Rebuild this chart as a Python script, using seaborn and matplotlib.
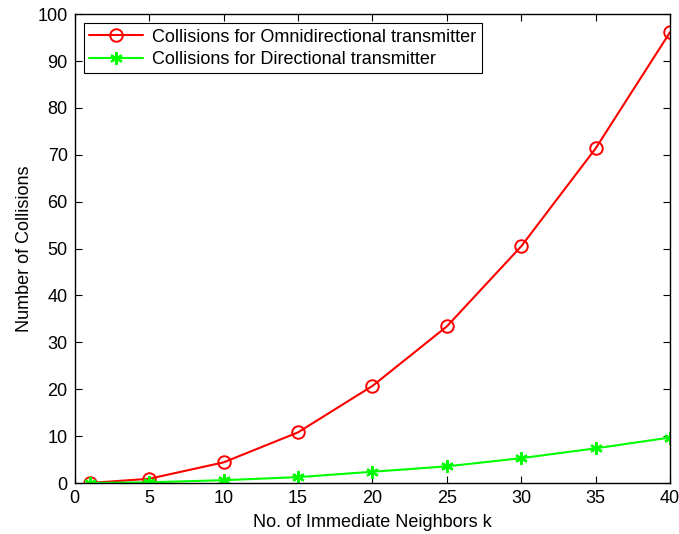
import matplotlib
matplotlib.use("Agg")
import matplotlib.pyplot as plt
import seaborn as sns
import pandas as pd

k = [1, 5, 10, 15, 20, 25, 30, 35, 40]
omni = [0, 0.9, 4.4, 10.8, 20.7, 33.4, 50.5, 71.4, 96.2]
directional = [0, 0.15, 0.6, 1.25, 2.4, 3.55, 5.3, 7.4, 9.7]
xticks = [0, 5, 10, 15, 20, 25, 30, 35, 40]
yticks = [0, 10, 20, 30, 40, 50, 60, 70, 80, 90, 100]

sns.set_style("ticks")
plt.rcParams['font.family'] = ['Liberation Sans', 'DejaVu Sans']
plt.rcParams['text.color'] = 'black'
plt.rcParams['axes.labelcolor'] = 'black'
plt.rcParams['xtick.color'] = 'black'
plt.rcParams['ytick.color'] = 'black'

fig = plt.figure(figsize=(6.79, 5.34), dpi=100)
ax = fig.add_axes([0.110, 0.0955, 0.877, 0.878])

df1 = pd.DataFrame({"k": k, "v": omni})
df2 = pd.DataFrame({"k": k, "v": directional})
sns.lineplot(data=df1, x="k", y="v", ax=ax, color="#FF0000", lw=1.5,
             marker="o", markersize=9, markerfacecolor="none",
             markeredgecolor="#FF0000", markeredgewidth=1.4,
             label="Collisions for Omnidirectional transmitter")
sns.lineplot(data=df2, x="k", y="v", ax=ax, color="#00FF00", lw=1.5,
             marker=(6, 2, 0), markersize=9,
             markeredgecolor="#00FF00", markeredgewidth=1.6,
             label="Collisions for Directional transmitter")

ax.set_xlim(0, 40)
ax.set_ylim(0, 100)
ax.set_xticks(xticks)
ax.set_yticks(yticks)
ax.tick_params(direction="in", top=True, right=True, labelsize=13, length=5,
               width=0.8, colors="black", labelcolor="black")
ax.tick_params(axis="x", pad=5)
ax.tick_params(axis="y", pad=5)
for s in ax.spines.values():
    s.set_linewidth(1.0)
    s.set_color("black")
ax.set_xlabel("No. of Immediate Neighbors k", fontsize=13, labelpad=5, color="black")
ax.set_ylabel("Number of Collisions", fontsize=13, labelpad=3, color="black")

leg = ax.legend(loc="upper left", fontsize=13, frameon=True, fancybox=False,
                edgecolor="black", framealpha=1, borderaxespad=0.5,
                handlelength=3.0, handletextpad=0.5, borderpad=0.3,
                labelspacing=0.3)
leg.get_frame().set_linewidth(0.8)
for t in leg.get_texts():
    t.set_color("black")

fig.savefig("out.png", dpi=100)
